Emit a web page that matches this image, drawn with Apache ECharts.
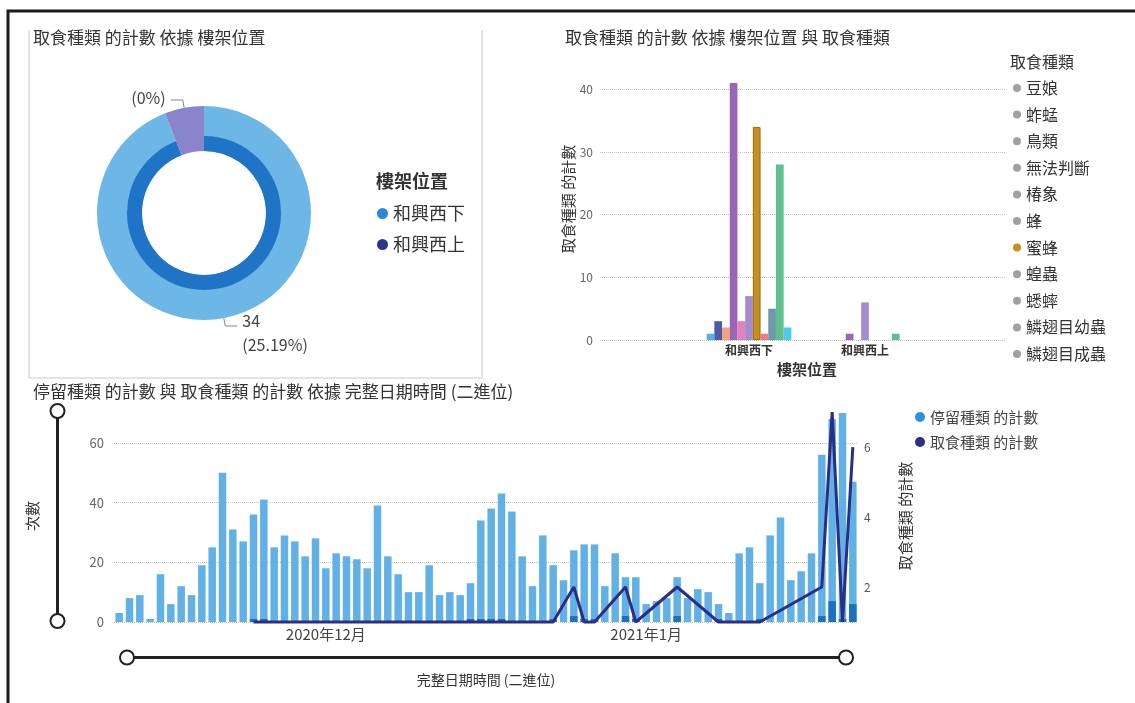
<!DOCTYPE html>
<html>
<head>
<meta charset="utf-8">
<title>取食種類 與 停留種類</title>
<script src="https://cdn.jsdelivr.net/npm/echarts@6/dist/echarts.min.js"></script>
<style>
  html, body { margin: 0; padding: 0; background: #fff; }
  #chart { width: 1135px; height: 703px; }
</style>
</head>
<body>
<div id="chart"></div>
<script>
// donut: 取食種類 的計數 依據 樓架位置
const shelfNames = ['和興西下', '和興西上'];
const shelfLegendColors = ['#2b88d8', '#2d3490'];
const donutValues = [127, 8];
const donutLabels = ['34\n(25.19%)', '(0%)'];

// clustered bars: 樓架位置 x 取食種類
const preyTypes = ['豆娘', '蚱蜢', '鳥類', '無法判斷', '椿象', '蜂', '蜜蜂', '蝗蟲', '蟋蟀', '鱗翅目幼蟲', '鱗翅目成蟲'];
const preyColors = ['#4bb4ea', '#4d5aa8', '#f0a37c', '#9b64b4', '#e57fbf', '#a38dd0', '#c6901f', '#ee7c82', '#6f98a8', '#5ec08c', '#4ec8f2'];
const preyLower = [1, 3, 2, 41, 3, 7, 34, 1, 5, 28, 2];
const preyUpper = [null, null, null, 1, null, 6, null, null, null, 1, null];
const preyTicks = [0, 10, 20, 30, 40];

// daily counts, 2020-11-11 onwards
const startDate = '2020-11-11';
const stayCounts = [
  3, 8, 9, 1, 16, 6, 12, 9, 19, 25, 50, 31,
  27, 36, 41, 25, 29, 27, 22, 28, 18, 23, 22, 21,
  18, 39, 22, 16, 10, 10, 19, 9, 10, 9, 13, 34,
  38, 43, 37, 22, 12, 29, 19, 14, 24, 26, 26, 12,
  23, 15, 15, 6, 7, 8, 15, 8, 11, 10, 6, 3,
  23, 25, 13, 29, 35, 14, 17, 23, 56, 68, 70, 47
];
const feedCounts = [
  null, null, null, null, null, null, null, null, null, null, null, null,
  null, 1, 1, null, null, null, null, null, null, null, null, null,
  null, null, null, null, null, null, null, null, null, null, 1, 1,
  1, 1, null, null, null, null, 1, null, 2, 1, 1, null,
  null, 2, 1, null, null, null, 2, null, null, null, 1, null,
  null, null, 1, null, null, null, null, null, 2, 7, 1, 6
];
const monthTickDates = ['2020-12-01', '2021-01-01'];
const monthTickLabels = ['2020年12月', '2021年1月'];

const days = [];
const d0 = new Date(startDate + 'T00:00:00Z');
for (let i = 0; i < stayCounts.length; i++) {
  const d = new Date(d0.getTime() + i * 86400000);
  days.push(d.toISOString().slice(0, 10));
}

const FONT = "'Noto Sans CJK TC', 'Noto Sans', sans-serif";
const dotted = { type: 'dotted', color: '#c4c4c4', width: 1 };

const sliderBase = {
  type: 'slider',
  filterMode: 'none',
  start: 0,
  end: 100,
  showDetail: false,
  showDataShadow: false,
  brushSelect: false,
  moveHandleSize: 0,
  backgroundColor: '#222',
  fillerColor: '#222',
  borderColor: '#222',
  borderRadius: 0,
  handleIcon: 'circle',
  handleSize: 14,
  handleStyle: { color: '#fff', borderColor: '#222', borderWidth: 2 },
  emphasis: { handleStyle: { color: '#fff', borderColor: '#222', borderWidth: 2 } }
};

const preySeries = preyTypes.map((name, i) => ({
  name: name,
  type: 'bar',
  xAxisIndex: 0,
  yAxisIndex: 0,
  barWidth: 7.7,
  barGap: 0,
  itemStyle: name === '蜜蜂'
    ? { color: preyColors[i], borderColor: '#9a6c0c', borderWidth: 1 }
    : { color: preyColors[i] },
  data: [preyLower[i], preyUpper[i]]
}));

const titleStyle = { fontSize: 17, fontWeight: 'normal', color: '#333', fontFamily: FONT };

const option = {
  animation: false,
  textStyle: { fontFamily: FONT },
  title: [
    { text: '取食種類 的計數 依據 樓架位置', left: 28, top: 24, textStyle: titleStyle },
    { text: '樓架位置', left: 371, top: 167,
      textStyle: { fontSize: 18, fontWeight: 600, color: '#333', fontFamily: FONT } },
    { text: '取食種類 的計數 依據 樓架位置 與 取食種類', left: 560, top: 24, textStyle: titleStyle },
    { text: '取食種類', left: 1005, top: 49,
      textStyle: { fontSize: 16, fontWeight: 'normal', color: '#333', fontFamily: FONT } },
    { text: '停留種類 的計數 與 取食種類 的計數 依據 完整日期時間 (二進位)', left: 28, top: 378, textStyle: titleStyle }
  ],
  legend: [
    {
      orient: 'vertical', left: 372, top: 199, itemGap: 12,
      icon: 'circle', itemWidth: 11, itemHeight: 11,
      textStyle: { fontSize: 18, color: '#333', lineHeight: 19, fontFamily: FONT },
      data: shelfNames.map((n, i) => ({ name: n, itemStyle: { color: shelfLegendColors[i] } }))
    },
    {
      orient: 'vertical', left: 1008, top: 74, itemGap: 8.6,
      icon: 'circle', itemWidth: 8, itemHeight: 8,
      textStyle: { fontSize: 16, color: '#333', lineHeight: 18, fontFamily: FONT },
      data: preyTypes.map(n => ({
        name: n,
        itemStyle: { color: n === '蜜蜂' ? '#c6901f' : '#a0a0a0', borderWidth: 0 }
      }))
    },
    {
      orient: 'vertical', left: 910, top: 404, itemGap: 9,
      icon: 'circle', itemWidth: 10, itemHeight: 10,
      textStyle: { fontSize: 15, color: '#444', lineHeight: 16, fontFamily: FONT },
      data: [
        { name: '停留種類 的計數', itemStyle: { color: '#2a8fe0' } },
        { name: '取食種類 的計數', itemStyle: { color: '#2c2e86' } }
      ]
    }
  ],
  grid: [
    { left: 691, width: 232, top: 58, height: 282 },
    { left: 600, width: 405, top: 58, height: 282 },
    { left: 114, width: 744, top: 410, height: 212 }
  ],
  xAxis: [
    {
      gridIndex: 0, type: 'category', data: shelfNames,
      axisLine: { show: false }, axisTick: { show: false },
      axisLabel: { fontSize: 12, color: '#333', fontWeight: 600, margin: 4 },
      name: '樓架位置', nameLocation: 'middle', nameGap: 22,
      nameTextStyle: { fontSize: 15, fontWeight: 600, color: '#333' }
    },
    { gridIndex: 1, type: 'value', min: 0, max: 1, show: false },
    {
      gridIndex: 2, type: 'category', data: days,
      axisLine: { show: false }, axisTick: { show: false },
      axisLabel: {
        fontSize: 15, color: '#444', margin: 5,
        interval: (idx, val) => monthTickDates.indexOf(val) >= 0,
        formatter: val => monthTickLabels[monthTickDates.indexOf(val)] || ''
      },
      name: '完整日期時間 (二進位)', nameLocation: 'middle', nameGap: 51,
      nameTextStyle: { fontSize: 14, color: '#333' }
    }
  ],
  yAxis: [
    { gridIndex: 0, type: 'value', min: 0, max: 45, show: false, splitLine: { show: false } },
    {
      gridIndex: 1, type: 'value', min: preyTicks[0], max: 45, interval: 10,
      axisLine: { show: false }, axisTick: { show: false },
      axisLabel: { fontSize: 12, color: '#666', margin: 7, showMaxLabel: false },
      splitLine: { lineStyle: dotted, showMaxLine: false },
      name: '取食種類 的計數', nameLocation: 'middle', nameRotate: 90, nameGap: 14,
      nameTextStyle: { fontSize: 15, color: '#333' }
    },
    {
      gridIndex: 2, type: 'value', min: 0, max: 71, interval: 20,
      axisLine: { show: false }, axisTick: { show: false },
      axisLabel: { fontSize: 13, color: '#666', margin: 10, showMaxLabel: false },
      splitLine: { lineStyle: dotted, showMaxLine: false },
      name: '次數', nameLocation: 'middle', nameRotate: 90, nameGap: 74,
      nameTextStyle: { fontSize: 15, color: '#333' }
    },
    {
      gridIndex: 2, type: 'value', position: 'right', min: 1, max: 7.06, interval: 1,
      axisLine: { show: false }, axisTick: { show: false },
      axisLabel: {
        fontSize: 12, color: '#555', margin: 6,
        formatter: v => (v % 2 === 0 ? String(v) : '')
      },
      splitLine: { show: false },
      name: '取食種類 的計數', nameLocation: 'middle', nameRotate: 90, nameGap: 40,
      nameTextStyle: { fontSize: 15, color: '#333' }
    }
  ],
  dataZoom: [
    Object.assign({}, sliderBase, { xAxisIndex: 2, left: 124, width: 721, top: 656, height: 3 }),
    Object.assign({}, sliderBase, { yAxisIndex: 2, orient: 'vertical', left: 55, width: 3, top: 410, height: 212 })
  ],
  series: [
    {
      name: '取食種類 的計數 依據 樓架位置',
      type: 'pie',
      center: [204, 213],
      radius: [62, 107],
      startAngle: 90,
      clockwise: true,
      avoidLabelOverlap: false,
      label: {
        show: true,
        formatter: p => donutLabels[p.dataIndex],
        fontSize: 16, lineHeight: 24, color: '#444'
      },
      labelLine: { show: true, length: 8, length2: 12, lineStyle: { color: '#888', width: 1 } },
      labelLayout: p => (p.dataIndex === 0 ? { dy: 7 } : { dy: -2 }),
      data: shelfNames.map((n, i) => ({
        name: n, value: donutValues[i],
        itemStyle: { color: i === 0 ? '#6db7e7' : '#8a84cc' }
      }))
    },
    {
      name: '取食種類 的計數 依據 樓架位置 (highlight)',
      type: 'pie',
      center: [204, 213],
      radius: [62, 77],
      startAngle: 90,
      clockwise: true,
      silent: true,
      label: { show: false },
      labelLine: { show: false },
      data: shelfNames.map((n, i) => ({
        name: n, value: donutValues[i],
        itemStyle: { color: i === 0 ? '#1f74c6' : 'rgba(0,0,0,0)' }
      }))
    },
    ...preySeries,
    {
      name: '停留種類 的計數',
      type: 'bar',
      xAxisIndex: 2,
      yAxisIndex: 2,
      barWidth: 7.5,
      itemStyle: { color: '#62b1e6' },
      data: stayCounts
    },
    {
      name: '取食種類 highlight',
      type: 'bar',
      xAxisIndex: 2,
      yAxisIndex: 2,
      barWidth: 7.5,
      barGap: '-100%',
      itemStyle: { color: '#1a70c2' },
      data: feedCounts
    },
    {
      name: '取食種類 的計數',
      type: 'line',
      xAxisIndex: 2,
      yAxisIndex: 3,
      connectNulls: true,
      clip: false,
      symbol: 'none',
      lineStyle: { color: '#2c2e86', width: 3 },
      itemStyle: { color: '#2c2e86' },
      z: 5,
      data: feedCounts
    }
  ],
  graphic: [
    { type: 'polyline', silent: true, shape: { points: [[8, 703], [8, 11], [1135, 11]] },
      style: { stroke: '#1a1a1a', lineWidth: 3, fill: null } },
    { type: 'polyline', silent: true, shape: { points: [[29, 30], [29, 378], [482, 378], [482, 30]] },
      style: { stroke: '#dcdcdc', lineWidth: 1.5, fill: null } }
  ]
};

const chart = echarts.init(document.getElementById('chart'), null, { renderer: 'canvas' });
chart.setOption(option);
</script>
</body>
</html>
